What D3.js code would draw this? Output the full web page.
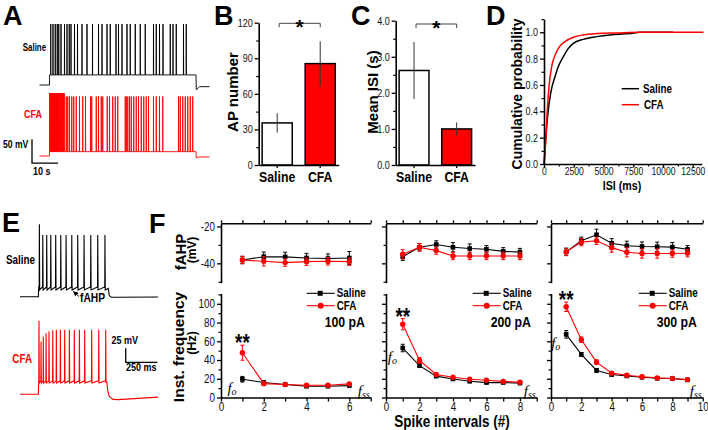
<!DOCTYPE html>
<html><head><meta charset="utf-8">
<script src="https://cdn.jsdelivr.net/npm/d3@7"></script>
<style>body{margin:0;background:#fff}svg{display:block}</style>
</head><body><svg id="c" width="708" height="430"></svg>
<script>
// ================= DATA =================
const groups = ["Saline", "CFA"];
const apNumber = [35.5, 85.5];
const apNumberErr = [8.2, 18.8];
const meanISI = [2.62, 1.0];
const meanISIErr = [0.79, 0.18];

// Cumulative ISI distribution [ISI ms, probability]
const cdfSaline = [[0,0],[40,0.04],[117,0.157],[230,0.29],[364,0.41],[560,0.537],[924,0.663],[1205,0.74],[1625,0.815],[2045,0.878],[2465,0.916],[3300,0.946],[4430,0.967],[5550,0.98],[7230,0.99],[8070,1.0],[10850,1.0]];
const cdfCFA = [[0,0],[40,0.05],[140,0.157],[280,0.41],[420,0.587],[645,0.74],[784,0.79],[1065,0.853],[1345,0.896],[1765,0.929],[2465,0.962],[3300,0.98],[4430,0.99],[6110,0.995],[8070,1.0],[13400,1.0]];
const cdfXTicks = [0, 2500, 5000, 7500, 10000, 12500];
const cdfYTicks = [0, 0.2, 0.4, 0.6, 0.8, 1.0];

// Panel F: three current steps
const currents = ["100 pA", "200 pA", "300 pA"];
const fahpSaline = [[-38.2,-36.4,-36.5,-37.1,-37.4,-37.1],[-36.4,-31.3,-29.8,-31.3,-32.0,-32.4,-33.5,-33.9],[-33.8,-27.8,-24.5,-29.1,-30.5,-30.9,-31.0,-31.2,-32.4]];
const fahpSalineErr = [[2,2.5,2.5,2.5,2.5,3.5],[2,2,2,2.5,2.5,2,2,2],[2,2,3,2.5,2.5,2.5,2.5,2.5,2]];
const fahpCFA = [[-38.2,-38.9,-39.6,-39.1,-38.9,-39.1],[-35.1,-31.3,-33.1,-36.0,-36.0,-36.0,-36.0,-36.0],[-33.8,-28.5,-27.8,-31.5,-34.0,-34.7,-34.7,-34.7,-34.5]];
const fahpCFAErr = [[2,2.5,2,2,2,2],[2.5,2,2,2,2,2,2,2],[2,2,2,2.5,2.5,2.5,2.5,2,2]];
const freqSaline = [[19.5,16,13.8,12,12,12.7],[52.8,34,22.8,19.8,17.3,15.9,16,15.3],[67.4,46,28.9,24.5,23,21.6,20.5,20.2,18.8]];
const freqSalineErr = [[3,1.5,1,1,1,1],[4,2,1.5,1,1,1,1,1],[4,2,2,1.5,1.5,1.5,1,1,1]];
const freqCFA = [[47.8,14.8,13.8,13.1,13.1,14.5],[78.2,39.6,24.6,21.6,19.5,18.4,17.2,16.2],[96.8,61.7,37.8,26,23.8,22.1,20.9,20.2,19.1]];
const freqCFAErr = [[8,1.5,1,1,1,1],[6,3,1.5,1,1,1,1,1],[5,3,2.5,1.5,1.5,1.5,1,1,1]];

// Panel A: spike times (s) during 60 s step
const aSalineSpikes = [0.5,1.4,2.3,3.1,3.7,4.6,6.0,7.0,7.9,8.6,10.0,11.2,13.0,15.0,17.2,19.6,21.0,23.0,24.3,26.6,27.6,29.0,31.0,32.3,34.3,36.3,38.3,41.6,42.7,44.0,45.4,48.3,49.4,50.7,53.6,54.7];
const aCFASpikes = [0.1,0.3,0.5,0.7,0.9,1.1,1.3,1.5,1.7,1.9,2.1,2.4,2.6,2.8,3.1,3.3,3.6,3.8,4.1,4.4,4.7,5.0,5.3,5.6,5.9,6.7,7.3,8.0,8.9,9.7,10.7,12.0,13.3,14.4,16.4,16.9,18.7,19.6,20.7,21.3,23.1,24.0,25.3,26.3,27.3,30.3,30.7,31.3,32.0,32.7,33.7,34.7,35.6,36.7,37.7,38.7,39.6,41.6,42.7,44.0,45.3,51.6,52.3,53.3,54.3,55.3,56.3,57.3];

// Panel E: spike times (ms) and peaks (mV)
const eSalineSpikes = [8,35,66,98,137,177,219,264,311,361,414,469,526];
const eSalinePeaks = [64,45,45,45,45,45,45,45,45,45,45,45,45];
const eCFASpikes = [5,21,39,61,84,114,142,174,208,245,284,324,366,421,477,532];
const eCFAPeaks = [66,29,38,44,47,49,50,50,50,50,50,50,50,50,50,50];

// ================= DRAWING =================
const RED = "#ff0000";
const FONT = "'Liberation Sans', Arial, Helvetica, sans-serif";
const SX = 0.82;
const svg = d3.select("#c").attr("font-family", FONT);

function txt(g, x, y, s, o = {}) {
  const sx = o.sx ?? SX;
  return g.append("text")
    .attr("transform", `translate(${x},${y})` + (o.rot ? ` rotate(${o.rot})` : ` scale(${sx},1)`))
    .attr("font-size", o.size || 11)
    .attr("font-weight", o.bold === false ? "normal" : "bold")
    .attr("text-anchor", o.anchor || "start")
    .attr("fill", o.fill || "#000")
    .attr("font-style", o.italic ? "italic" : null)
    .attr("font-family", o.family || FONT)
    .text(s);
}
function styleAxis(g, size, opts = {}) {
  g.attr("font-family", FONT).attr("font-size", size);
  g.select(".domain").attr("stroke-width", opts.dw || 1.6).attr("stroke", "#000");
  g.selectAll(".tick line").attr("stroke-width", 1.3).attr("stroke", "#000");
  g.selectAll(".tick text").attr("fill", "#111").each(function () {
    const t = d3.select(this);
    const x = +t.attr("x") || 0;
    t.attr("x", x / SX).attr("transform", `scale(${SX},1)`);
  });
  return g;
}
function minor(g, axis) {
  const m = g.append("g").call(axis.tickFormat(""));
  m.select(".domain").remove();
  m.selectAll(".tick line").attr("stroke-width", 1.2).attr("stroke", "#000");
  return m;
}

// Panel letters
[["A",3,25],["B",214,25],["C",351,25],["D",486,25],["E",2,232],["F",149,233]].forEach(([l,x,y]) =>
  txt(svg, x, y, l, {size: 27, sx: 1}));

// ---------- Panel A ----------
{
  const g = svg.append("g");
  const xA = d3.scaleLinear().domain([-4, 64]).range([39.5, 209.5]);
  const yS = d3.scaleLinear().domain([-65, 60]).range([85, 25]);
  const yC = d3.scaleLinear().domain([-65, 60]).range([156, 96]);
  const build = (spikes, rest, plat, peak, burstPeak, nBurst, post1, post2) => {
    const p = [[-4, rest], [0, rest], [0.02, plat]];
    spikes.forEach((s, i) => { const pk = i < nBurst ? burstPeak : peak; p.push([s - 0.04, plat], [s, pk], [s + 0.05, plat]); });
    p.push([58.6, plat], [58.7, post1], [60, post2], [64, post2]);
    return p;
  };
  const line = y => d3.line().x(d => xA(d[0])).y(d => y(d[1]));
  g.append("path").attr("d", line(yS)(build(aSalineSpikes, -65, -44, 62, 62, 0, -75, -68.5)))
    .attr("fill", "none").attr("stroke", "#000").attr("stroke-width", 0.9);
  g.append("path").attr("d", line(yC)(build(aCFASpikes, -65, -56, 59, 66, 25, -68.5, -67)))
    .attr("fill", "none").attr("stroke", RED).attr("stroke-width", 0.9);
  // scale bar 50 mV / 10 s
  g.append("path").attr("d", `M${xA(-7)},${yC(-30)}V${yC(-80)}H${xA(3.4)}`)
    .attr("fill", "none").attr("stroke", "#000").attr("stroke-width", 1.3);
  txt(g, 46, 51, "Saline", {size: 10.5, anchor: "end", sx: 0.75});
  txt(g, 42, 118, "CFA", {size: 11, anchor: "end", fill: RED});
  txt(g, 3, 148, "50 mV", {size: 10.5});
  txt(g, 33, 175, "10 s", {size: 11});
}

// ---------- Bar panels B & C ----------
function barPanel(x0, x1, yTop, domainMax, majors, minors, vals, errs, title, titleX, starY) {
  const g = svg.append("g");
  const x = d3.scaleBand().domain(groups).range([x0, x1]).paddingInner(0.3).paddingOuter(0.08);
  const y = d3.scaleLinear().domain([0, domainMax]).range([165, yTop]);
  g.selectAll("rect").data(groups).join("rect")
    .attr("x", d => x(d)).attr("width", x.bandwidth())
    .attr("y", (d, i) => y(vals[i])).attr("height", (d, i) => y(0) - y(vals[i]))
    .attr("fill", (d, i) => i ? RED : "#fff").attr("stroke", "#000").attr("stroke-width", 1.5);
  g.selectAll("line.err").data(groups).join("line").attr("class", "err")
    .attr("x1", d => x(d) + x.bandwidth() / 2).attr("x2", d => x(d) + x.bandwidth() / 2)
    .attr("y1", (d, i) => y(vals[i] + errs[i])).attr("y2", (d, i) => y(vals[i] - errs[i]))
    .attr("stroke", "#333").attr("stroke-width", 1);
  const ya = g.append("g").attr("transform", `translate(${x0},0)`)
    .call(d3.axisLeft(y).tickValues(majors).tickSize(4).tickSizeOuter(0).tickPadding(2));
  styleAxis(ya, 11);
  minor(g.append("g").attr("transform", `translate(${x0},0)`), d3.axisLeft(y).tickValues(minors).tickSize(2.5).tickSizeOuter(0));
  const xa = g.append("g").attr("transform", `translate(0,165)`)
    .call(d3.axisBottom(x).tickSize(3).tickSizeOuter(0).tickPadding(3));
  styleAxis(xa, 15);
  xa.selectAll(".tick text").attr("font-weight", "bold").attr("fill", "#000");
  // significance bracket
  const c0 = x(groups[0]) + x.bandwidth() / 2 + 2, c1 = x(groups[1]) + x.bandwidth() / 2;
  g.append("path").attr("d", `M${c0},${starY + 4}V${starY}H${c1}V${starY + 4}`)
    .attr("fill", "none").attr("stroke", "#444").attr("stroke-width", 1);
  txt(g, (c0 + c1) / 2, starY + 11, "*", {size: 21, anchor: "middle", sx: 1});
  txt(g, titleX, 92, title, {size: 15, rot: -90, anchor: "middle"});
}
barPanel(258.7, 338.7, 22.7, 120, [0,30,60,90,120], [15,45,75,105], apNumber, apNumberErr, "AP number", 238, 23.3);
barPanel(395.7, 475, 20.7, 4, [0,1,2,3,4], [0.5,1.5,2.5,3.5], meanISI, meanISIErr, "Mean ISI (s)", 378, 24);

// ---------- Panel D ----------
{
  const g = svg.append("g");
  const x = d3.scaleLinear().domain([0, 13250]).range([544, 701.7]);
  const y = d3.scaleLinear().domain([0, 1.1]).range([164, 19.1]);
  const ln = d3.line().x(d => x(d[0])).y(d => y(d[1])).curve(d3.curveMonotoneX);
  g.append("path").attr("d", ln(cdfSaline)).attr("fill", "none").attr("stroke", "#000").attr("stroke-width", 1.5);
  g.append("path").attr("d", ln(cdfCFA)).attr("fill", "none").attr("stroke", RED).attr("stroke-width", 1.5);
  const ya = g.append("g").attr("transform", `translate(544,0)`)
    .call(d3.axisLeft(y).tickValues(cdfYTicks).tickFormat(d3.format(".1f")).tickSize(4).tickSizeOuter(0).tickPadding(2));
  styleAxis(ya, 11);
  minor(g.append("g").attr("transform", `translate(544,0)`), d3.axisLeft(y).tickValues([0.1,0.3,0.5,0.7,0.9,1.1]).tickSize(2.5).tickSizeOuter(0));
  const xa = g.append("g").attr("transform", `translate(0,164)`)
    .call(d3.axisBottom(x).tickValues(cdfXTicks).tickFormat(d3.format("d")).tickSize(3.5).tickSizeOuter(0).tickPadding(0.5));
  styleAxis(xa, 10.5);
  minor(g.append("g").attr("transform", `translate(0,164)`), d3.axisBottom(x).tickValues([1250,3750,6250,8750,11250]).tickSize(2.5).tickSizeOuter(0));
  txt(g, 522, 94, "Cumulative probability", {size: 14, rot: -90, anchor: "middle"});
  txt(g, 622, 189.5, "ISI (ms)", {size: 13, anchor: "middle"});
  g.append("line").attr("x1", 621.7).attr("x2", 639).attr("y1", 88.7).attr("y2", 88.7).attr("stroke", "#000").attr("stroke-width", 1.5);
  g.append("line").attr("x1", 621.7).attr("x2", 639).attr("y1", 104.7).attr("y2", 104.7).attr("stroke", RED).attr("stroke-width", 1.5);
  txt(g, 643, 93, "Saline", {size: 12});
  txt(g, 644, 109, "CFA", {size: 12});
}

// ---------- Panel E ----------
{
  const g = svg.append("g");
  const x = d3.scaleLinear().domain([-145, 945]).range([20, 158]);
  const yS = d3.scaleLinear().domain([-65, 45]).range([296.7, 235]);
  const yC = d3.scaleLinear().domain([-65, 50]).range([394.3, 329.8]);
  const build = (spikes, peaks, rest, thr, trough, tail) => {
    const p = [[-145, rest], [0, rest], [3, thr]];
    spikes.forEach((s, i) => p.push([s - 1.5, thr], [s, peaks[i]], [s + 2.5, trough]));
    return p.concat(tail);
  };
  const line = y => d3.line().x(d => x(d[0])).y(d => y(d[1]));
  g.append("path").attr("d", line(yS)(build(eSalineSpikes, eSalinePeaks, -65, -47.5, -53,
      [[552, -50], [560, -63], [575, -66], [620, -66], [945, -65.5]])))
    .attr("fill", "none").attr("stroke", "#000").attr("stroke-width", 1.1);
  g.append("path").attr("d", line(yC)(build(eCFASpikes, eCFAPeaks, -65, -41, -45,
      [[540, -42], [548, -58], [560, -69], [590, -74], [630, -74.5], [945, -70]])))
    .attr("fill", "none").attr("stroke", RED).attr("stroke-width", 1.1);
  // scale bar 25 mV / 250 ms
  g.append("path").attr("d", `M${x(690)},${yC(17)}V${yC(-8)}H${x(940)}`)
    .attr("fill", "none").attr("stroke", "#000").attr("stroke-width", 1.3);
  txt(g, 111.5, 344, "25 mV", {size: 11});
  txt(g, 126, 371, "250 ms", {size: 11});
  txt(g, 35, 264, "Saline", {size: 12, anchor: "end"});
  txt(g, 32, 363, "CFA", {size: 12, anchor: "end", fill: RED});
  txt(g, 80, 302, "fAHP", {size: 12.5});
  svg.append("defs").append("marker").attr("id", "ah").attr("viewBox", "0 0 10 10")
    .attr("refX", 9).attr("refY", 5).attr("markerWidth", 5).attr("markerHeight", 5).attr("orient", "auto")
    .append("path").attr("d", "M0,0L10,5L0,10z").attr("fill", "#000");
  g.append("line").attr("x1", 79).attr("y1", 296.5).attr("x2", 73.5).attr("y2", 291.5)
    .attr("stroke", "#000").attr("stroke-width", 1).attr("marker-end", "url(#ah)");
}

// ---------- Panel F ----------
{
  const layout = [{x0: 221, x1: 370.7, xmax: 7}, {x0: 386, x1: 536.7, xmax: 9}, {x0: 551, x1: 702.7, xmax: 10}];
  const yUp = d3.scaleLinear().domain([-50.5, -18.3]).range([282.7, 223.3]);
  const yLo = d3.scaleLinear().domain([0, 111]).range([397.5, 293.5]);
  layout.forEach((L, p) => {
    const g = svg.append("g");
    const x = d3.scaleLinear().domain([0, L.xmax]).range([L.x0, L.x1]);
    const ints = d3.range(0, L.xmax + 1);
    // upper axes
    const ua = g.append("g").attr("transform", `translate(${L.x0},0)`)
      .call(d3.axisLeft(yUp).tickValues([-40, -20]).tickSize(4).tickSizeOuter(0).tickPadding(2).tickFormat(p ? "" : d => d));
    styleAxis(ua, 12);
    minor(g.append("g").attr("transform", `translate(${L.x0},0)`), d3.axisLeft(yUp).tickValues([-50, -30]).tickSize(2.5).tickSizeOuter(0));
    const ta = g.append("g").attr("transform", `translate(0,223.3)`)
      .call(d3.axisTop(x).tickValues(ints).tickFormat("").tickSize(3).tickSizeOuter(0));
    styleAxis(ta, 12);
    // lower axes
    const la = g.append("g").attr("transform", `translate(${L.x0},0)`)
      .call(d3.axisLeft(yLo).tickValues([0, 20, 40, 60, 80, 100]).tickSize(4).tickSizeOuter(0).tickPadding(2).tickFormat(p ? "" : d => d));
    styleAxis(la, 12);
    minor(g.append("g").attr("transform", `translate(${L.x0},0)`), d3.axisLeft(yLo).tickValues([10, 30, 50, 70, 90, 110]).tickSize(2.5).tickSizeOuter(0));
    const ba = g.append("g").attr("transform", `translate(0,397.5)`)
      .call(d3.axisBottom(x).tickValues(ints).tickFormat(d => d % 2 ? "" : d).tickSize(4).tickSizeOuter(0).tickPadding(1));
    styleAxis(ba, 12);

    const series = (vals, errs, y, color, marker) => {
      const pts = vals.map((v, i) => [i + 1, v, errs[i]]);
      g.append("path").attr("d", d3.line().x(d => x(d[0])).y(d => y(d[1]))(pts))
        .attr("fill", "none").attr("stroke", color).attr("stroke-width", 1.1);
      const e = g.append("g").attr("stroke", color).attr("stroke-width", 1);
      pts.forEach(d => {
        const cx = x(d[0]), t = y(d[1] + d[2]), b = y(d[1] - d[2]);
        e.append("path").attr("d", `M${cx},${t}V${b}M${cx - 2},${t}H${cx + 2}M${cx - 2},${b}H${cx + 2}`);
      });
      pts.forEach(d => {
        if (marker === "sq") g.append("rect").attr("x", x(d[0]) - 2.3).attr("y", y(d[1]) - 2.3).attr("width", 4.6).attr("height", 4.6).attr("fill", color);
        else g.append("circle").attr("cx", x(d[0])).attr("cy", y(d[1])).attr("r", 2.7).attr("fill", color);
      });
    };
    series(fahpSaline[p], fahpSalineErr[p], yUp, "#000", "sq");
    series(fahpCFA[p], fahpCFAErr[p], yUp, RED, "ci");
    series(freqSaline[p], freqSalineErr[p], yLo, "#000", "sq");
    series(freqCFA[p], freqCFAErr[p], yLo, RED, "ci");

    // legend
    const lx = L.x1 - 64;
    [["Saline", "#000", 293.3, "sq"], ["CFA", RED, 305.7, "ci"]].forEach(([n, c, ly, m]) => {
      g.append("line").attr("x1", lx).attr("x2", lx + 28).attr("y1", ly).attr("y2", ly).attr("stroke", c).attr("stroke-width", 1.1);
      if (m === "sq") g.append("rect").attr("x", lx + 11).attr("y", ly - 2.5).attr("width", 5).attr("height", 5).attr("fill", c);
      else g.append("circle").attr("cx", lx + 14).attr("cy", ly).attr("r", 3).attr("fill", c);
      txt(g, lx + 30, ly + 4, n, {size: 12});
    });
    txt(g, lx + 18, 327, currents[p], {size: 15});
    // annotations
    txt(g, x(1), yLo(freqCFA[p][0] + freqCFAErr[p][0]) + 6, "**", {size: 23, anchor: "middle"});
    const fo = txt(g, x(1) - 15, yLo(freqSaline[p][0]) + 14, "f", {size: 15, bold: false, italic: true, family: "'Liberation Serif', 'Times New Roman', serif", sx: 1});
    fo.append("tspan").attr("font-size", 10).attr("dy", 2).text("o");
    const fs = txt(g, L.x1 - 1, 396, "f", {size: 15, bold: false, italic: true, family: "'Liberation Serif', 'Times New Roman', serif", anchor: "end", sx: 1});
    fs.append("tspan").attr("font-size", 10).attr("dy", 2).text("ss");
  });
  txt(svg, 186, 252, "fAHP", {size: 15, rot: -90, anchor: "middle"});
  txt(svg, 196, 250, "(mV)", {size: 12, rot: -90, anchor: "middle"});
  txt(svg, 184, 347, "Inst. frequency", {size: 15.5, rot: -90, anchor: "middle"});
  txt(svg, 196, 343, "(Hz)", {size: 12.5, rot: -90, anchor: "middle"});
  txt(svg, 452, 427, "Spike intervals (#)", {size: 16.5, anchor: "middle"});
}
</script></body></html>
